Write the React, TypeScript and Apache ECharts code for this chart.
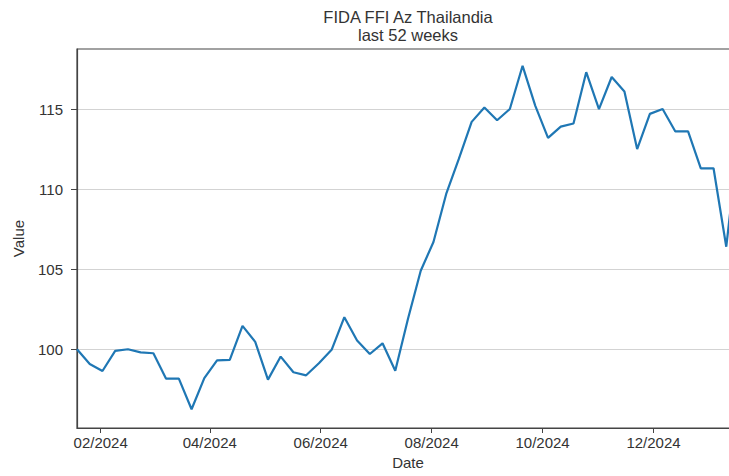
import React, { useEffect, useRef } from "react";
import * as echarts from "echarts";

const titleLines = ["FIDA FFI Az Thailandia", "last 52 weeks"];

const dates = [
  "2024-01-19", "2024-01-26", "2024-02-02", "2024-02-09", "2024-02-16", "2024-02-23",
  "2024-03-01", "2024-03-08", "2024-03-15", "2024-03-22", "2024-03-29",
  "2024-04-05", "2024-04-12", "2024-04-19", "2024-04-26",
  "2024-05-03", "2024-05-10", "2024-05-17", "2024-05-24", "2024-05-31",
  "2024-06-07", "2024-06-14", "2024-06-21", "2024-06-28",
  "2024-07-05", "2024-07-12", "2024-07-19", "2024-07-26",
  "2024-08-02", "2024-08-09", "2024-08-16", "2024-08-23", "2024-08-30",
  "2024-09-06", "2024-09-13", "2024-09-20", "2024-09-27",
  "2024-10-04", "2024-10-11", "2024-10-18", "2024-10-25",
  "2024-11-01", "2024-11-08", "2024-11-15", "2024-11-22", "2024-11-29",
  "2024-12-06", "2024-12-13", "2024-12-20", "2024-12-27",
  "2025-01-03", "2025-01-10", "2025-01-17",
];

const values = [
  100.0, 99.08, 98.64, 99.9, 100.0, 99.8,
  99.75, 98.16, 98.16, 96.25, 98.2,
  99.3, 99.33, 101.46, 100.46,
  98.1, 99.54, 98.56, 98.37, 99.12,
  99.96, 102.0, 100.54, 99.7,
  100.37, 98.66, 101.9, 104.9,
  106.7, 109.7, 111.9, 114.2, 115.1,
  114.3, 115.0, 117.7, 115.2,
  113.2, 113.9, 114.1, 117.3,
  115.0, 117.0, 116.1, 112.5, 114.7,
  115.0, 113.6, 113.6, 111.3,
  111.3, 106.4, 113.4,
];

const xTickMonths = ["2024-02-01", "2024-04-01", "2024-06-01", "2024-08-01", "2024-10-01", "2024-12-01"];
const yTicks = [100, 105, 110, 115];

const yMin = 95.08;
const yMax = 118.75;
const xMin = "2024-01-19";
const xMax = "2025-01-17";

const FONT = "'Liberation Sans', Arial, sans-serif";
const TEXT = "#333333";

const VIEW_W = 729;
const VIEW_H = 476;
const CHART_W = 740;

function toTs(s: string): number {
  const [y, m, d] = s.split("-").map(Number);
  return Date.UTC(y, m - 1, d);
}

function fmtMonth(v: number): string {
  const d = new Date(v);
  const mm = String(d.getUTCMonth() + 1).padStart(2, "0");
  return `${mm}/${d.getUTCFullYear()}`;
}

export default function App() {
  const ref = useRef<HTMLDivElement>(null);

  useEffect(() => {
    if (!ref.current) return;
    const chart = echarts.init(ref.current, null, { renderer: "svg" });
    const gridLeft = 77;
    const gridRight = 1;
    const plotCenter = gridLeft + (CHART_W - gridLeft - gridRight) / 2;
    const xTickValues = xTickMonths.map(toTs);

    chart.setOption({
      animation: false,
      backgroundColor: "#ffffff",
      textStyle: { fontFamily: FONT },
      grid: {
        left: gridLeft,
        right: gridRight,
        top: 49,
        bottom: 48,
        containLabel: false,
        show: true,
        borderColor: "#444444",
        borderWidth: 1.2,
        backgroundColor: "transparent",
      },
      graphic: titleLines.map((t, i) => ({
        type: "text",
        x: plotCenter,
        y: 16.5 + i * 18.8,
        style: {
          text: t,
          textAlign: "center",
          textVerticalAlign: "middle",
          font: `16.5px ${FONT}`,
          fill: TEXT,
        },
      })),
      xAxis: {
        type: "value",
        min: toTs(xMin),
        max: toTs(xMax),
        name: "Date",
        nameLocation: "middle",
        nameGap: 27,
        nameTextStyle: { color: TEXT, fontSize: 15, fontFamily: FONT },
        axisLine: { show: true, onZero: false, lineStyle: { color: "#444444", width: 1.2 } },
        axisTick: {
          show: true,
          length: 5,
          lineStyle: { color: "#444444", width: 1 },
          customValues: xTickValues,
        },
        axisLabel: {
          color: TEXT,
          fontSize: 15,
          fontFamily: FONT,
          margin: 7,
          customValues: xTickValues,
          formatter: (v: number) => fmtMonth(v),
        },
        splitLine: { show: false },
      },
      yAxis: {
        type: "value",
        min: yMin,
        max: yMax,
        name: "Value",
        nameLocation: "middle",
        nameGap: 51,
        nameRotate: 90,
        nameTextStyle: { color: TEXT, fontSize: 15, fontFamily: FONT },
        axisLine: { show: true, onZero: false, lineStyle: { color: "#444444", width: 1.2 } },
        axisTick: {
          show: true,
          length: 6,
          lineStyle: { color: "#444444", width: 1 },
          customValues: yTicks,
        },
        axisLabel: {
          color: TEXT,
          fontSize: 15,
          fontFamily: FONT,
          margin: 14,
          customValues: yTicks,
        },
        splitLine: { show: true, lineStyle: { color: "#d3d3d3", width: 1 } },
      },
      series: [
        {
          type: "line",
          data: dates.map((d, i) => [toTs(d), values[i]]),
          showSymbol: false,
          symbol: "none",
          lineStyle: { color: "#1f77b4", width: 2.2 },
          clip: true,
        },
      ],
    });
    return () => chart.dispose();
  }, []);

  return (
    <div
      style={{
        position: "fixed",
        left: 0,
        top: 0,
        width: VIEW_W,
        height: VIEW_H,
        overflow: "hidden",
        background: "#ffffff",
      }}
    >
      <div ref={ref} style={{ width: CHART_W, height: VIEW_H }} />
    </div>
  );
}
